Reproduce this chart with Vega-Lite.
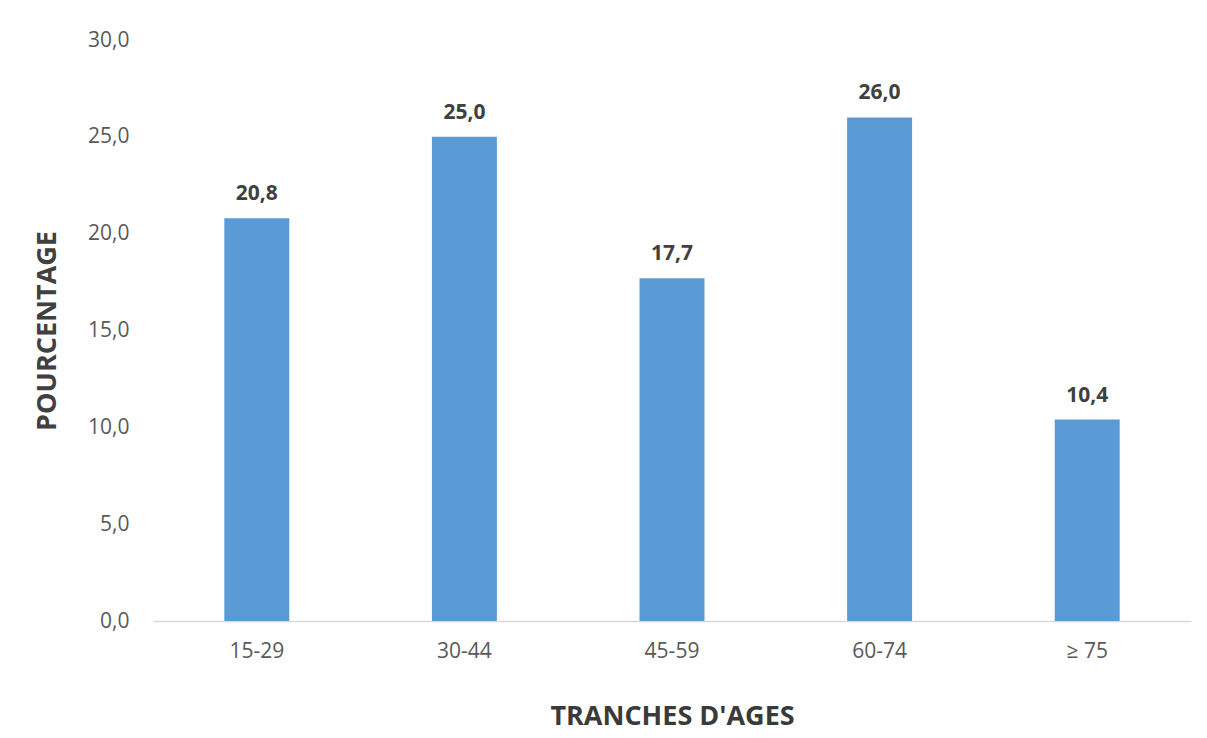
{
  "$schema": "https://vega.github.io/schema/vega-lite/v6.json",
  "width": 1038,
  "height": 581,
  "autosize": "none",
  "padding": {"left": 153, "top": 40, "right": 16, "bottom": 117},
  "background": "white",
  "data": {
    "values": [
      {"tranche": "15-29", "pourcentage": 20.8},
      {"tranche": "30-44", "pourcentage": 25.0},
      {"tranche": "45-59", "pourcentage": 17.7},
      {"tranche": "60-74", "pourcentage": 26.0},
      {"tranche": "≥ 75", "pourcentage": 10.4}
    ]
  },
  "encoding": {
    "x": {
      "field": "tranche",
      "type": "nominal",
      "sort": null,
      "scale": {"paddingInner": 0.687, "paddingOuter": 0.3435},
      "axis": {
        "title": "TRANCHES D'AGES",
        "titleFont": "Open Sans",
        "titleFontSize": 27,
        "titleFontWeight": "bold",
        "titleColor": "#3a3a3a",
        "titlePadding": 42,
        "labelAngle": 0,
        "labelFont": "Open Sans",
        "labelFontSize": 21,
        "labelColor": "#595959",
        "labelPadding": 19,
        "ticks": false,
        "domainColor": "#d9d9d9",
        "domainWidth": 1.5,
        "grid": false
      }
    },
    "y": {
      "field": "pourcentage",
      "type": "quantitative",
      "scale": {"domain": [0, 30], "nice": false},
      "axis": {
        "title": "POURCENTAGE",
        "titleFont": "Open Sans",
        "titleFontSize": 27,
        "titleFontWeight": "bold",
        "titleColor": "#404040",
        "titlePadding": 26,
        "values": [0, 5, 10, 15, 20, 25, 30],
        "format": ".1f",
        "labelFont": "Open Sans",
        "labelFontSize": 21,
        "labelColor": "#595959",
        "labelPadding": 24,
        "ticks": false,
        "domain": false,
        "grid": false
      }
    }
  },
  "layer": [
    {"mark": {"type": "bar", "color": "#5b9bd5"}},
    {
      "mark": {
        "type": "text",
        "baseline": "bottom",
        "dy": -14,
        "font": "Open Sans",
        "fontSize": 21,
        "fontWeight": "bold",
        "color": "#404040"
      },
      "encoding": {
        "text": {"field": "pourcentage", "type": "quantitative", "format": ".1f"}
      }
    }
  ],
  "config": {
    "view": {"stroke": null},
    "locale": {
      "number": {
        "decimal": ",",
        "thousands": " ",
        "grouping": [3],
        "currency": ["", " €"]
      }
    }
  }
}
